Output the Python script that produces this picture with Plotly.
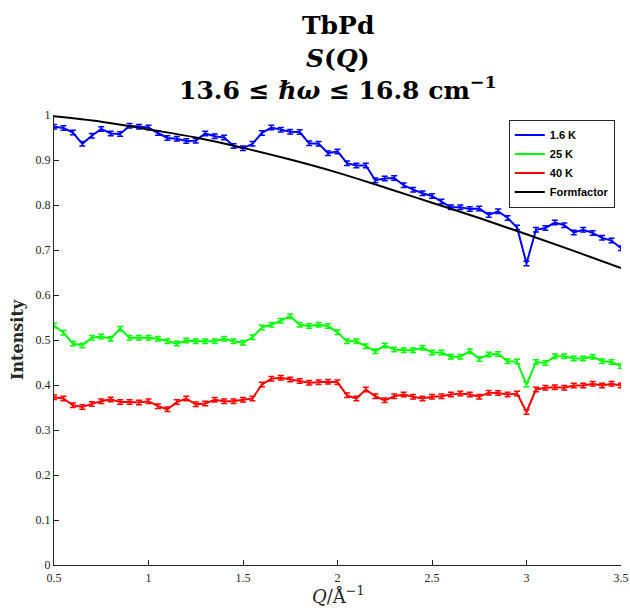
import plotly.graph_objects as go

Q = [0.50, 0.55, 0.60, 0.65, 0.70, 0.75, 0.80, 0.85, 0.90, 0.95,
     1.00, 1.05, 1.10, 1.15, 1.20, 1.25, 1.30, 1.35, 1.40, 1.45,
     1.50, 1.55, 1.60, 1.65, 1.70, 1.75, 1.80, 1.85, 1.90, 1.95,
     2.00, 2.05, 2.10, 2.15, 2.20, 2.25, 2.30, 2.35, 2.40, 2.45,
     2.50, 2.55, 2.60, 2.65, 2.70, 2.75, 2.80, 2.85, 2.90, 2.95,
     3.00, 3.05, 3.10, 3.15, 3.20, 3.25, 3.30, 3.35, 3.40, 3.45, 3.50]

I_1p6K = [0.974, 0.971, 0.961, 0.936, 0.954, 0.969, 0.959, 0.958, 0.976, 0.974,
          0.972, 0.960, 0.949, 0.947, 0.942, 0.943, 0.959, 0.953, 0.950, 0.931,
          0.926, 0.936, 0.960, 0.972, 0.967, 0.963, 0.962, 0.937, 0.936, 0.915,
          0.919, 0.893, 0.888, 0.888, 0.855, 0.859, 0.860, 0.844, 0.834, 0.826,
          0.820, 0.808, 0.795, 0.795, 0.791, 0.792, 0.778, 0.786, 0.771, 0.750,
          0.670, 0.745, 0.749, 0.761, 0.755, 0.739, 0.745, 0.738, 0.727, 0.721, 0.704]

I_25K = [0.532, 0.516, 0.492, 0.488, 0.505, 0.508, 0.503, 0.525, 0.505, 0.505,
         0.505, 0.503, 0.497, 0.492, 0.499, 0.497, 0.497, 0.497, 0.503, 0.497,
         0.494, 0.506, 0.528, 0.534, 0.543, 0.553, 0.534, 0.531, 0.534, 0.531,
         0.517, 0.497, 0.497, 0.486, 0.475, 0.488, 0.479, 0.477, 0.477, 0.483,
         0.472, 0.472, 0.463, 0.463, 0.475, 0.458, 0.468, 0.469, 0.453, 0.452,
         0.401, 0.451, 0.449, 0.464, 0.464, 0.459, 0.459, 0.463, 0.453, 0.451, 0.442]

I_40K = [0.373, 0.370, 0.355, 0.351, 0.358, 0.364, 0.368, 0.362, 0.362, 0.361,
         0.364, 0.353, 0.346, 0.362, 0.370, 0.357, 0.359, 0.367, 0.364, 0.364,
         0.367, 0.370, 0.401, 0.414, 0.416, 0.412, 0.409, 0.405, 0.406, 0.407,
         0.406, 0.377, 0.370, 0.390, 0.375, 0.366, 0.375, 0.379, 0.374, 0.370,
         0.374, 0.375, 0.379, 0.381, 0.379, 0.374, 0.383, 0.382, 0.379, 0.381,
         0.340, 0.390, 0.394, 0.395, 0.394, 0.399, 0.399, 0.403, 0.399, 0.403, 0.399]

ERR = 0.005

Q_ff = [0.50, 0.75, 1.00, 1.25, 1.50, 1.75, 2.00, 2.25, 2.50, 2.75, 3.00, 3.25, 3.50]
FF = [0.997, 0.985, 0.968, 0.950, 0.927, 0.901, 0.872, 0.839, 0.805, 0.771, 0.735, 0.698, 0.660]

series = [("1.6 K", I_1p6K, "#0000ff"), ("25 K", I_25K, "#00ff00"), ("40 K", I_40K, "#ff0000")]

fig = go.Figure()
for name, vals, col in series:
    fig.add_trace(go.Scatter(
        x=Q, y=vals, mode="lines", name="<b>" + name + "</b>",
        line=dict(color=col, width=2),
        error_y=dict(type="constant", value=ERR, color=col, thickness=1.5, width=3),
    ))
fig.add_trace(go.Scatter(x=Q_ff, y=FF, mode="lines", name="<b>Formfactor</b>",
                         line=dict(color="black", width=2, shape="spline")))

axcol = "#262626"
tickfont = dict(family="Liberation Serif", size=12, color=axcol)
fig.update_xaxes(range=[0.5, 3.5], dtick=0.5, tick0=0.5, showline=True, linecolor=axcol, linewidth=1,
                 ticks="inside", ticklen=5, tickcolor=axcol, showgrid=False, zeroline=False,
                 tickfont=tickfont, mirror=False, automargin=False, ticklabelstandoff=2)
fig.update_yaxes(range=[0, 1], dtick=0.1, showline=True, linecolor=axcol, linewidth=1,
                 ticks="inside", ticklen=5, tickcolor=axcol, showgrid=False, zeroline=False,
                 tickfont=tickfont, mirror=False, automargin=False)

def py(p):
    return (565.5 - p) / 451.0

serif = "DejaVu Serif"
ann = [
    dict(text="<b>TbPd</b>", y=py(25)),
    dict(text="<b><i>S</i>(<i>Q</i>)</b>", y=py(58)),
    dict(text="<b>13.6 ≤ <i>ℏω</i> ≤ 16.8 cm<sup>−1</sup></b>", y=py(88)),
]
for a in ann:
    fig.add_annotation(text=a["text"], x=0.5, y=a["y"], xref="paper", yref="paper",
                       showarrow=False, xanchor="center", yanchor="middle",
                       font=dict(family=serif, size=25, color="black"))

fig.add_annotation(text="<i>Q</i>/Å<sup>−1</sup>", x=0.5, y=py(596), xref="paper", yref="paper",
                   showarrow=False, xanchor="center", yanchor="middle",
                   font=dict(family=serif, size=18, color=axcol))
fig.add_annotation(text="<b>Intensity</b>", x=(17 - 54) / 567.0, y=0.5, xref="paper", yref="paper",
                   showarrow=False, xanchor="center", yanchor="middle", textangle=-90,
                   font=dict(family=serif, size=16, color=axcol))

fig.update_layout(
    width=630, height=608,
    margin=dict(l=54, r=9, t=114.5, b=42.5),
    plot_bgcolor="white", paper_bgcolor="white",
    showlegend=True,
    legend=dict(x=0.989, y=0.99, xanchor="right", yanchor="top",
                bgcolor="white", bordercolor=axcol, borderwidth=1,
                font=dict(family="Liberation Sans", size=11, color="black"),
                tracegroupgap=0, itemwidth=30),
)

fig.write_html("out.html")
